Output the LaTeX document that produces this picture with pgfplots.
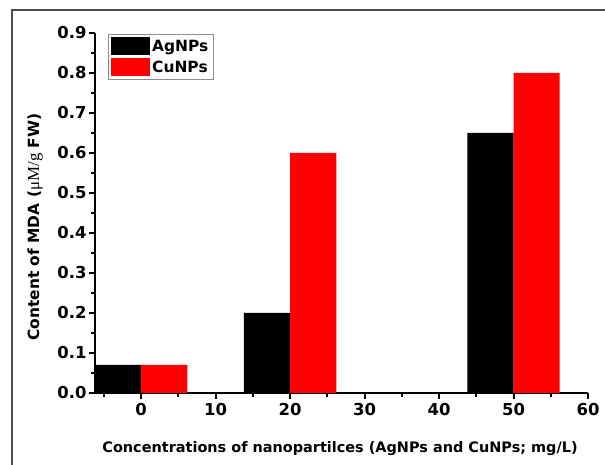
\documentclass[border=0pt]{standalone}
\usepackage{pgfplots}
\pgfplotsset{compat=1.18}
\usepackage{fontspec}
\setmainfont{DejaVu Sans}
\newfontfamily\serifmu{Liberation Serif}
\begin{document}
\begin{tikzpicture}[x=1bp,y=1bp]
\useasboundingbox (0,0) rectangle (605,465);
% outer frame
\draw[line width=2bp, black!70] (12,-5) -- (12,455) -- (615,455);
\begin{axis}[
  at={(95bp,72bp)}, anchor=south west,
  scale only axis, width=493bp, height=360bp,
  xmin=-6.2, xmax=60, ymin=0, ymax=0.9,
  axis lines*=left,
  axis line style={line width=2bp, black},
  xtick={0,10,20,30,40,50,60},
  minor xtick={-5,5,15,25,35,45,55},
  ytick={0,0.1,0.2,0.3,0.4,0.5,0.6,0.7,0.8,0.9},
  minor ytick={0.05,0.15,0.25,0.35,0.45,0.55,0.65,0.75,0.85},
  tick align=outside,
  major tick length=6bp, minor tick length=4bp,
  every tick/.style={line width=2bp, black},
  tick label style={font=\bfseries\fontsize{16.5}{19}\selectfont},
  xticklabel style={yshift=-1bp},
  yticklabel style={xshift=1bp},
  /pgf/number format/assume math mode=true,
  yticklabel style={/pgf/number format/.cd, fixed, fixed zerofill, precision=1},
  every axis x label/.style={at={(rel axis cs:0.497,-0.153)}, anchor=center},
  every axis y label/.style={at={(rel axis cs:-0.1217,0.461)}, rotate=90, anchor=center},
  xlabel={\bfseries\fontsize{14.5}{16}\selectfont Concentrations of nanopartilces (AgNPs and CuNPs; mg/L)},
  ylabel={\bfseries\fontsize{15.5}{17}\selectfont Content of MDA ({\serifmu\mdseries\fontsize{17}{18}\selectfont μM/g} FW)},
  legend style={at={(axis description cs:0.026,0.997)}, anchor=north west,
    draw=black!45, line width=0.8bp, inner xsep=3bp, inner ysep=3bp,
    font=\bfseries\fontsize{15.5}{18}\selectfont, row sep=3bp,
    legend cell align=left},
  legend image code/.code={\fill[#1] (0bp,-9bp) rectangle (39bp,9bp);},
]
\addplot[ybar, fill=black, draw=none, bar width=6.2, bar shift=-3.1]
  coordinates {(0,0.07) (20,0.2) (50,0.65)};
\addlegendentry{AgNPs}
\addplot[ybar, fill=red, draw=none, bar width=6.2, bar shift=3.1]
  coordinates {(0,0.07) (20,0.6) (50,0.8)};
\addlegendentry{CuNPs}
\end{axis}
\end{tikzpicture}
\end{document}
